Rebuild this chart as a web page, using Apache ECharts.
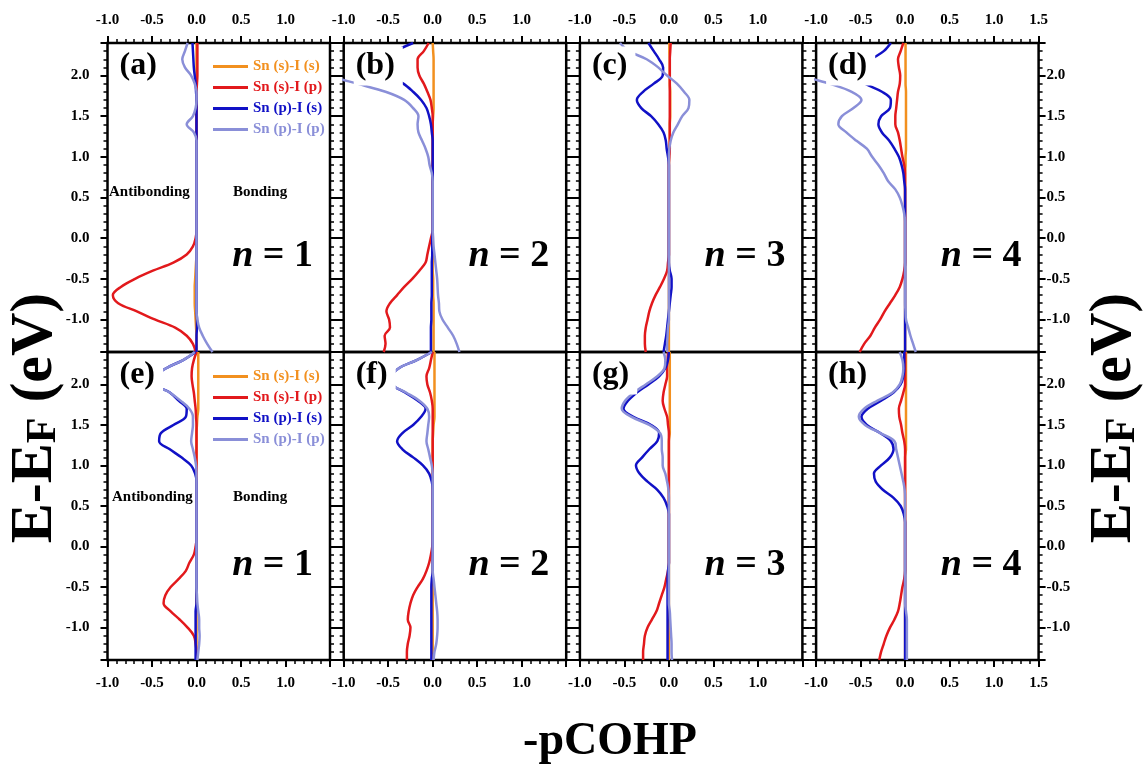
<!DOCTYPE html>
<html>
<head>
<meta charset="utf-8">
<script src="https://cdn.jsdelivr.net/npm/echarts@6/dist/echarts.min.js"></script>
<style>
  html, body { margin: 0; padding: 0; background: #fff; }
  #chart { width: 1146px; height: 767px; }
</style>
</head>
<body>
<div id="chart"></div>
<script>
// Energy grid (E - E_F, eV), shared by every curve, top to bottom
const energy = [2.4, 2.3, 2.2, 2.1, 2.0, 1.9, 1.8, 1.7, 1.6, 1.5,
  1.4, 1.3, 1.2, 1.1, 1.0, 0.9, 0.8, 0.7, 0.6, 0.5,
  0.4, 0.3, 0.2, 0.1, 0.0, -0.1, -0.2, -0.3, -0.4, -0.5,
  -0.6, -0.7, -0.8, -0.9, -1.0, -1.1, -1.2, -1.3, -1.4];

const seriesNames = ['Sn (s)-I (s)', 'Sn (s)-I (p)', 'Sn (p)-I (s)', 'Sn (p)-I (p)'];
const panelTags = ['(a)', '(b)', '(c)', '(d)', '(e)', '(f)', '(g)', '(h)'];
const layerNumbers = [1, 2, 3, 4, 1, 2, 3, 4];

// -pCOHP values, one array per orbital pair and panel
const a_ss = [0,0,0,0,0,0,0,0,0,0, 0,0,0,0,0,0,0,0,0,0, 0,0,0,0,0,0,0,-0.005,-0.01,-0.015, -0.02,-0.02,-0.02,-0.015,-0.01,-0.005,0,0,0];
const a_sp = [0.01,0.01,0.01,0.01,0.01,0.005,0,0,0,0, 0,0,0,0,0,0,0,0,0,0, 0,0,0,0,-0.01,-0.04,-0.11,-0.26,-0.49,-0.69, -0.85,-0.94,-0.88,-0.67,-0.47,-0.24,-0.11,-0.04,-0.01];
const a_ps = [-0.045,-0.04,-0.035,-0.03,-0.02,-0.01,-0.005,0,0,0, 0,0,0,0,0,0,0,0,0,0, 0,0,0,0,0,0,0,0,0,0, 0,0,0,0,0.005,0.005,0,0,0];
const a_pp = [-0.10,-0.13,-0.16,-0.13,-0.06,-0.02,0,0,-0.01,-0.04, -0.11,-0.03,0,0,0,0,0,0,0,0, 0,0,0,0,0,0,0,0,0,0, 0,0,0,0,0.01,0.03,0.07,0.12,0.18];

const b_ss = [0,0.005,0.01,0.01,0.01,0.01,0.01,0.01,0.01,0.005, 0,0,0,0,0,0,0,0,0,0, 0,0,0,0,0,0,0,0,0,0.005, 0.005,0.005,0.01,0.01,0.01,0.01,0.01,0.01,0.01];
const b_sp = [-0.045,-0.10,-0.17,-0.17,-0.15,-0.10,-0.06,-0.025,-0.01,0, 0,0,0,0,0,0,0,0,0,0, 0,0,0,0,-0.02,-0.04,-0.06,-0.08,-0.15,-0.23, -0.32,-0.40,-0.48,-0.52,-0.49,-0.48,-0.54,-0.53,-0.55];
const b_ps = [-0.22,-0.42,-0.55,-0.58,-0.50,-0.33,-0.22,-0.13,-0.07,-0.04, -0.02,-0.01,0,0,0,0,0,0,0,0, 0,0,0,0,-0.005,-0.005,-0.005,-0.01,-0.01,-0.01, -0.01,-0.01,-0.015,-0.015,-0.015,-0.02,-0.02,-0.02,-0.02];
const b_pp = [-1.6,-1.5,-1.4,-1.3,-1.15,-0.85,-0.53,-0.32,-0.22,-0.16, -0.17,-0.16,-0.12,-0.08,-0.05,-0.035,-0.01,0,0,0, 0,0,0,0,0.005,0.01,0.02,0.03,0.04,0.05, 0.055,0.06,0.07,0.075,0.11,0.17,0.23,0.27,0.30];

const c_ss = [0.005,0.005,0.01,0.01,0.01,0.01,0.015,0.015,0.015,0.015, 0.01,0.01,0.01,0.005,0,0,0,0,0,0, 0,0,0,0,0,0,0,0,0,0, 0,0,0,0,0,0,0,0,0];
const c_sp = [0.02,0.015,0.01,0.01,0.01,0.01,0.01,0.01,0.01,0.01, 0.01,0.01,0.01,0.01,0.005,0,0,0,0,0, 0,0,0,0,0,0,0,-0.01,-0.02,-0.055, -0.10,-0.15,-0.19,-0.22,-0.24,-0.26,-0.27,-0.27,-0.26];
const c_ps = [-0.23,-0.17,-0.11,-0.065,-0.07,-0.17,-0.29,-0.36,-0.31,-0.20, -0.12,-0.06,-0.035,-0.025,-0.01,0,0,0,0,0, 0,0,0,0,0,0,0,0,0.01,0.03, 0.03,0.02,0.01,0,-0.01,-0.02,-0.03,-0.045,-0.06];
const c_pp = [-0.55,-0.45,-0.25,-0.12,-0.02,0.09,0.17,0.23,0.22,0.15, 0.10,0.05,0.02,0.005,0,0,0,0,0,0, 0,0,0,0,0,0,0,0,0,0, 0,0,0,0,0,-0.01,-0.015,-0.02,-0.02];

const d_ss = [0.005,0.005,0.005,0.005,0.005,0.005,0.01,0.01,0.01,0.01, 0.01,0.01,0.01,0.01,0.005,0.005,0,0,0,0, 0,0,0,0,0,0,0,0,0,0, 0,0,0,0,0,0,0,0,0];
const d_sp = [-0.02,-0.05,-0.08,-0.07,-0.055,-0.06,-0.08,-0.09,-0.10,-0.11, -0.11,-0.08,-0.06,-0.045,-0.03,-0.01,0,0,0,0, 0,0,0,0,0,0,0,0,-0.01,-0.03, -0.06,-0.11,-0.17,-0.23,-0.28,-0.34,-0.39,-0.46,-0.51];
const d_ps = [-0.16,-0.24,-0.38,-0.50,-0.56,-0.45,-0.26,-0.16,-0.17,-0.27, -0.30,-0.26,-0.18,-0.12,-0.07,-0.04,-0.02,-0.01,0,0, 0,0,0,0,0,0,0,0,0,0, 0,0,0,0,0,0,0,0,0];
const d_pp = [-1.6,-1.5,-1.4,-1.3,-1.15,-0.85,-0.60,-0.49,-0.58,-0.71, -0.75,-0.66,-0.55,-0.43,-0.37,-0.30,-0.24,-0.19,-0.11,-0.06, -0.03,-0.01,0,0,0,0,0,0,0,0, 0,0,0,0.005,0.01,0.035,0.06,0.09,0.12];

const e_ss = [0.02,0.02,0.02,0.02,0.02,0.02,0.02,0.02,0.01,0.005, 0,0,0,0,0,0,0,0,0,0, 0,0,0,0,0,0,0,0,0,0, 0,0,0,0,0,0,0,0,0];
const e_sp = [0,-0.03,-0.05,-0.055,-0.045,-0.03,-0.02,-0.01,-0.005,0, 0,0,0,0,0,0,0,0,0,0, 0,0,0,0,-0.01,-0.03,-0.08,-0.12,-0.20,-0.29, -0.35,-0.37,-0.29,-0.19,-0.10,-0.03,-0.01,0,0];
const e_ps = [-0.01,-0.15,-0.34,-0.45,-0.45,-0.30,-0.20,-0.11,-0.12,-0.26, -0.40,-0.42,-0.30,-0.17,-0.06,-0.015,0,0,0,0, 0,0,0,0,0,0,0,0,0,0, 0,0,-0.01,-0.01,-0.01,-0.01,-0.01,-0.01,-0.01];
const e_pp = [-0.02,-0.15,-0.34,-0.45,-0.45,-0.30,-0.18,-0.08,-0.04,-0.04, -0.05,-0.06,-0.04,-0.02,-0.005,0,0,0,0,0, 0,0,0,0,0,0,0,0,0,0, 0.005,0.01,0.02,0.03,0.03,0.035,0.03,0.02,0.01];

const f_ss = [0.02,0.02,0.02,0.02,0.02,0.02,0.02,0.02,0.02,0.01, 0.005,0,0,0,0,0,0,0,0,0, 0,0,0,0,0,0,0,0,0,0, 0,0,0,0,0,0,0,0,0];
const f_sp = [0,-0.02,-0.04,-0.07,-0.06,-0.03,-0.01,0,0,0, 0,0,0,0,0,0,0,0,0,0, 0,0,0,0,-0.005,-0.02,-0.04,-0.07,-0.11,-0.17, -0.22,-0.25,-0.27,-0.28,-0.25,-0.26,-0.28,-0.29,-0.29];
const f_ps = [-0.01,-0.18,-0.38,-0.46,-0.45,-0.31,-0.17,-0.08,-0.13,-0.22, -0.34,-0.40,-0.34,-0.22,-0.11,-0.04,-0.01,0,0,0, 0,0,0,0,0,0,0,0,-0.01,-0.015, -0.015,-0.015,-0.015,-0.015,-0.015,-0.015,-0.015,-0.015,-0.015];
const f_pp = [-0.01,-0.18,-0.38,-0.46,-0.45,-0.30,-0.15,-0.06,-0.04,-0.05, -0.06,-0.07,-0.05,-0.03,-0.01,0,0,0,0,0, 0,0,0,0,0,0,0,0,0.01,0.02, 0.03,0.04,0.05,0.055,0.055,0.05,0.04,0.02,0.01];

const g_ss = [0.01,0.01,0.01,0.01,0.01,0.01,0.01,0.01,0.01,0.01, 0.01,0,0,0,0,0,0,0,0,0, 0,0,0,0,0,0,0,0,0,0, 0,0,0,0,0,0,0,0,0];
const g_sp = [-0.01,-0.015,-0.02,-0.02,-0.04,-0.06,-0.07,-0.05,-0.02,-0.01, 0,0,0,0,0,0,0,0,0,0, 0,0,0,0,0,0,0,-0.01,-0.03,-0.05, -0.08,-0.11,-0.14,-0.19,-0.24,-0.27,-0.28,-0.29,-0.29];
const g_ps = [0,-0.01,-0.04,-0.11,-0.23,-0.36,-0.46,-0.51,-0.40,-0.20, -0.11,-0.13,-0.22,-0.30,-0.37,-0.33,-0.24,-0.13,-0.06,-0.02, 0,0,0,0,0,0,0,-0.01,-0.015,-0.015, -0.015,-0.015,-0.015,-0.015,-0.015,-0.015,-0.015,-0.015,-0.015];
const g_pp = [-0.06,-0.04,-0.05,-0.13,-0.26,-0.39,-0.49,-0.53,-0.42,-0.22, -0.10,-0.08,-0.08,-0.07,-0.07,-0.04,-0.02,-0.005,0,0, 0,0,0,0,0,0,0,0,0,0, 0,0,0.01,0.015,0.02,0.025,0.03,0.03,0.035];

const h_ss = [0.01,0.01,0.01,0.01,0.01,0.01,0.01,0.01,0.01,0.01, 0.01,0.01,0.01,0,0,0,0,0,0,0, 0,0,0,0,0,0,0,0,0,0, 0,0,0,0,0,0,0,0,0];
const h_sp = [0,0,0,0,0,-0.02,-0.045,-0.07,-0.065,-0.045, -0.03,-0.01,0,0,0,0,0,0,0,0, 0,0,0,0,0,0,0,0,-0.01,-0.03, -0.045,-0.06,-0.08,-0.12,-0.17,-0.21,-0.24,-0.27,-0.29];
const h_ps = [-0.01,-0.01,-0.01,-0.02,-0.05,-0.13,-0.27,-0.42,-0.49,-0.43, -0.28,-0.16,-0.13,-0.17,-0.27,-0.35,-0.33,-0.25,-0.13,-0.05, -0.015,0,0,0,0,0,0,0,0,0, 0,0,0,0,0,0,0,0,0];
const h_pp = [-0.06,-0.03,-0.02,-0.03,-0.06,-0.14,-0.31,-0.46,-0.52,-0.45, -0.28,-0.12,-0.10,-0.08,-0.06,-0.04,-0.02,-0.005,0,0, 0,0,0,0,0,0,0,0,0,0, 0,0,0.01,0.02,0.02,0.02,0.02,0.02,0.02];

const panelCurves = [
  [a_ss, a_sp, a_ps, a_pp], [b_ss, b_sp, b_ps, b_pp],
  [c_ss, c_sp, c_ps, c_pp], [d_ss, d_sp, d_ps, d_pp],
  [e_ss, e_sp, e_ps, e_pp], [f_ss, f_sp, f_ps, f_pp],
  [g_ss, g_sp, g_ps, g_pp], [h_ss, h_sp, h_ps, h_pp]
];

// ---- styling / layout ----
const FONT = '"Liberation Serif", "Times New Roman", serif';
const colors = ['#F2901F', '#E2191C', '#1111C6', '#8A8FD8'];
const colLeft = [107.5, 343.7, 579.9, 816.1];
const colWidth = 222.5;
const rowTop = [43, 352];
const rowHeight = [309, 308];
const fmt1 = v => (Math.abs(v) < 1e-9 ? 0 : v).toFixed(1);

const grids = [], xAxes = [], yAxes = [], series = [], graphics = [];

for (let p = 0; p < 8; p++) {
  const r = p < 4 ? 0 : 1;
  const c = p % 4;
  grids.push({
    left: colLeft[c], top: rowTop[r], width: colWidth, height: rowHeight[r],
    show: true, borderColor: '#000', borderWidth: 2.5, backgroundColor: 'transparent',
    containLabel: false, outerBoundsMode: 'none'
  });
  xAxes.push({
    gridIndex: p, type: 'value', min: -1.0, max: 1.5, interval: 0.5,
    position: r === 0 ? 'top' : 'bottom',
    axisLine: { show: false, onZero: false },
    axisTick: { show: true, length: 7, lineStyle: { color: '#000', width: 2 } },
    minorTick: { show: true, splitNumber: 5, length: 4, lineStyle: { color: '#000', width: 1.5 } },
    splitLine: { show: false },
    axisLabel: {
      show: true, showMaxLabel: c === 3, margin: r === 0 ? 15 : 16,
      formatter: fmt1, color: '#000', fontFamily: FONT, fontWeight: 'bold', fontSize: 15
    }
  });
  ['left', 'right'].forEach(side => {
    const labelled = (side === 'left' && c === 0) || (side === 'right' && c === 3);
    yAxes.push({
      gridIndex: p, type: 'value', min: -1.4, max: 2.4, splitNumber: 8,
      position: side,
      axisLine: { show: false, onZero: false },
      axisTick: { show: true, length: 7, lineStyle: { color: '#000', width: 2 } },
      minorTick: { show: true, splitNumber: 5, length: 4, lineStyle: { color: '#000', width: 1.5 } },
      splitLine: { show: false },
      axisLabel: {
        show: labelled, showMinLabel: false, showMaxLabel: false,
        margin: side === 'left' ? 18 : 8,
        formatter: fmt1, color: '#000', fontFamily: FONT, fontWeight: 'bold', fontSize: 15
      }
    });
  });

  panelCurves[p].forEach((vals, k) => {
    series.push({
      type: 'line', name: seriesNames[k],
      xAxisIndex: p, yAxisIndex: 2 * p,
      data: energy.map((e, i) => [vals[i], e]),
      smooth: 0.35, showSymbol: false, symbol: 'none', clip: true, silent: true,
      color: colors[k],
      lineStyle: { width: 2.5, color: colors[k] }
    });
  });

  // panel tag on a white box
  graphics.push({
    type: 'text', z: 100, x: colLeft[c] + 10, y: rowTop[r] + 23,
    style: {
      text: panelTags[p], fill: '#000',
      font: 'bold 32px ' + FONT, textVerticalAlign: 'middle',
      backgroundColor: '#fff', padding: [3, 8, 4, 2]
    }
  });
  // layer number
  graphics.push({
    type: 'text', z: 100, x: colLeft[c] + colWidth - 17, y: rowTop[r] + 213,
    style: {
      text: '{i|n}{r| = ' + layerNumbers[p] + '}',
      rich: {
        i: { fontFamily: FONT, fontWeight: 'bold', fontStyle: 'italic', fontSize: 38, fill: '#000' },
        r: { fontFamily: FONT, fontWeight: 'bold', fontSize: 38, fill: '#000' }
      },
      textAlign: 'right', textVerticalAlign: 'middle'
    }
  });
}

// bonding / antibonding side notes
[[109, 192], [112, 497]].forEach(([x, y]) => {
  graphics.push({ type: 'text', z: 100, x: x, y: y,
    style: { text: 'Antibonding', font: 'bold 15px ' + FONT, fill: '#000', textVerticalAlign: 'middle' } });
  graphics.push({ type: 'text', z: 100, x: 233, y: y,
    style: { text: 'Bonding', font: 'bold 15px ' + FONT, fill: '#000', textVerticalAlign: 'middle' } });
});

// axis titles
const eTitle = {
  text: '{m|E-E}{s|F}{m| (eV)}',
  rich: {
    m: { fontFamily: FONT, fontWeight: 'bold', fontSize: 60, lineHeight: 64, verticalAlign: 'bottom', fill: '#000' },
    s: { fontFamily: FONT, fontWeight: 'bold', fontSize: 42, lineHeight: 38, padding: [14, 0, 0, 0], verticalAlign: 'bottom', fill: '#000' }
  },
  textAlign: 'center', textVerticalAlign: 'middle'
};
graphics.push({ type: 'text', z: 100, x: 33, y: 418, rotation: Math.PI / 2, style: Object.assign({}, eTitle) });
graphics.push({ type: 'text', z: 100, x: 1112, y: 418, rotation: Math.PI / 2, style: Object.assign({}, eTitle) });
graphics.push({ type: 'text', z: 100, x: 610, y: 742,
  style: { text: '-pCOHP', font: 'bold 46px ' + FONT, fill: '#000', textAlign: 'center', textVerticalAlign: 'middle' } });

const legends = [54, 364].map(top => ({
  show: true, orient: 'vertical', left: 208, top: top,
  icon: 'rect', itemWidth: 35, itemHeight: 3, itemGap: 6,
  selectedMode: false,
  textStyle: { fontFamily: FONT, fontWeight: 'bold', fontSize: 15 },
  data: seriesNames.map((n, k) => ({ name: n, textStyle: { color: colors[k] } }))
}));

const chart = echarts.init(document.getElementById('chart'), null, { renderer: 'canvas' });
chart.setOption({
  animation: false,
  backgroundColor: '#fff',
  textStyle: { fontFamily: FONT },
  grid: grids,
  xAxis: xAxes,
  yAxis: yAxes,
  legend: legends,
  series: series,
  graphic: graphics
});
</script>
</body>
</html>
